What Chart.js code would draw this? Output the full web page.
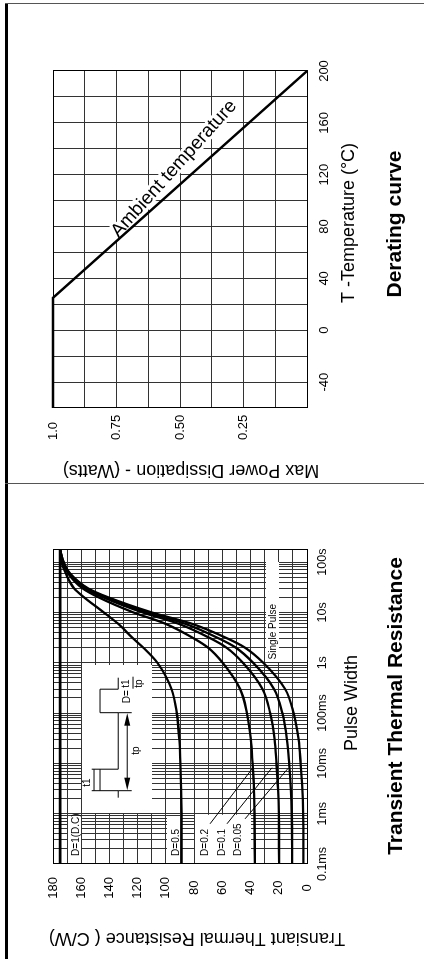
<!DOCTYPE html>
<html>
<head>
<meta charset="utf-8">
<script src="https://cdn.jsdelivr.net/npm/chart.js@4.4.1/dist/chart.umd.min.js"></script>
<style>
html,body{margin:0;padding:0;background:#fff;width:424px;height:959px;overflow:hidden;}
#stage{position:absolute;left:0;top:0;width:959px;height:424px;transform-origin:0 0;transform:translate(0px,959px) rotate(-90deg);background:#fff;}
canvas{position:absolute;top:0;}
.ln{position:absolute;background:#000;}
</style>
</head>
<body>
<div id="stage">
  <canvas id="zth" width="475" height="424" style="left:0px"></canvas>
  <canvas id="derate" width="479" height="424" style="left:476px"></canvas>
  <div class="ln" style="left:0;top:5px;width:956px;height:3px;"></div>
  <div class="ln" style="left:475px;top:5px;width:1px;height:419px;background:#555"></div>
  <div class="ln" style="left:955px;top:5px;width:1px;height:419px;background:#555"></div>
</div>
<script>
// ---------------- DATA ----------------
// Transient thermal resistance (C/W) vs pulse width (s)
const pulseWidth = [1e-4, 1e-3, 3e-3, 1e-2, 3e-2, 0.1, 0.3, 1, 2, 3, 6, 10, 20, 30, 60, 100, 174];
const zthDC     = [175, 175, 175, 175, 175, 175, 175, 175, 175, 175, 175, 175, 175, 175, 175, 175, 175];
const zthD05    = [88.8, 88.9, 89.2, 89.8, 90.5, 92.3, 96, 106, 116, 123, 134, 144, 158, 165, 171, 174, 175];
const zthD02    = [37, 37.2, 37.6, 38.6, 39.8, 42.6, 47.4, 59.8, 70.2, 79.8, 100.6, 123, 147.8, 159, 169.4, 173, 175];
const zthD01    = [19.8, 20, 20.5, 21.6, 22.9, 26.1, 31.5, 45.4, 57.1, 67.9, 91.3, 116.5, 144.4, 157, 168.7, 172.8, 175];
const zthD005   = [10.5, 10.8, 11.4, 12.6, 14.2, 17.5, 23.3, 38.2, 50.5, 62, 86.7, 113.3, 142.7, 156, 168.4, 172.6, 175];
const zthSingle = [2.5, 2.8, 3.3, 4.5, 6, 9.5, 15.5, 31, 44, 56, 82, 110, 141, 155, 168, 172.5, 175];
const dutyLabels = ['D=1(D.C)', 'D=0.5', 'D=0.2', 'D=0.1', 'D=0.05', 'Single Pulse'];

const pulseTickValues = [1e-4, 1e-3, 1e-2, 1e-1, 1, 10, 100];
const pulseTickLabels = ['0.1ms', '1ms', '10ms', '100ms', '1s', '10s', '100s'];
const zthTickValues = [0, 20, 40, 60, 80, 100, 120, 140, 160, 180];
const zthTickLabels = ['0', '20', '40', '60', '80', '100', '120', '140', '160', '180'];

// Derating curve
const temperature = [-60, 25, 200];
const maxPower    = [1.0, 1.0, 0.0];
const tempTickValues = [-40, 0, 40, 80, 120, 160, 200];
const tempTickLabels = ['-40', '0', '40', '80', '120', '160', '200'];
const powerTickValues = [0.25, 0.5, 0.75, 1.0];
const powerTickLabels = ['0.25', '0.50', '0.75', '1.0'];

// ---------------- SETUP ----------------
const FONT = '"Liberation Sans", Arial, Helvetica, sans-serif';
Chart.defaults.font.family = FONT;
Chart.defaults.color = '#000';
const GRID = '#333';

function pts(xs, ys){ return xs.map((x,i)=>({x:x, y:ys[i]})); }
function lookup(vals, labels, v){
  for (let i=0;i<vals.length;i++){ if (Math.abs(vals[i]-v) < 1e-9*Math.max(1,Math.abs(v))) return labels[i]; }
  return '';
}
function lookupLog(vals, labels, v){
  for (let i=0;i<vals.length;i++){ if (Math.abs(Math.log10(vals[i])-Math.log10(v)) < 1e-6) return labels[i]; }
  return '';
}
function text(ctx, s, x, y, font, align, base){
  ctx.font = font; ctx.textAlign = align || 'center'; ctx.textBaseline = base || 'middle';
  ctx.fillText(s, x, y);
}

const lineDs = (data, w) => ({data:data, borderColor:'#000', borderWidth:w, pointRadius:0, fill:false, cubicInterpolationMode:'monotone'});

// ---------------- LEFT: Transient thermal resistance ----------------
const zthDeco = {
  id:'zthDeco',
  beforeDatasetsDraw(chart){
    const {ctx, chartArea:a, scales:{x, y}} = chart;
    ctx.save();
    ctx.fillStyle = '#fff';
    const box = (t1,t2,v1,v2,snapRight) => {
      const x1 = Math.round(x.getPixelForValue(t1)) + 1;
      const x2 = snapRight ? Math.round(x.getPixelForValue(t2)) : x.getPixelForValue(t2);
      const yT = Math.round(y.getPixelForValue(v2)) + 1;
      const yB = Math.round(y.getPixelForValue(v1));
      ctx.fillRect(x1, yT, x2-x1, yB-yT);
    };
    box(1e-4, 8.5e-4, 160, 170, false);
    box(1e-4, 8.5e-4, 90, 100, false);
    box(1e-4, 9.5e-4, 40, 80, false);
    box(1e-3, 0.9, 110, 160, true);
    box(1, 100, 20, 30, true);

    // labels
    ctx.fillStyle = '#000';
    const f10 = '10px ' + FONT;
    const lx = x.getPixelForValue(1.45e-4);
    text(ctx, dutyLabels[0], lx, y.getPixelForValue(163.3), f10, 'left');
    text(ctx, dutyLabels[1], lx, y.getPixelForValue(92.6), f10, 'left');
    text(ctx, dutyLabels[2], lx, y.getPixelForValue(72.3), f10, 'left');
    text(ctx, dutyLabels[3], lx, y.getPixelForValue(60.4), f10, 'left');
    text(ctx, dutyLabels[4], lx, y.getPixelForValue(48.9), f10, 'left');
    text(ctx, dutyLabels[5], x.getPixelForValue(1.16), y.getPixelForValue(23.6), f10, 'left');

    // inset pulse diagram
    const bx = x.getPixelForValue(1e-3), by = y.getPixelForValue(160);
    ctx.strokeStyle = '#000'; ctx.lineWidth = 1;
    const L = (p) => { ctx.beginPath(); p.forEach((q,i)=> i ? ctx.lineTo(bx+q[0], by+q[1]) : ctx.moveTo(bx+q[0], by+q[1])); ctx.stroke(); };
    L([[16,37],[23,37],[23,18.8],[44.5,18.8],[44.5,37],[101,37],[101,18.8],[124.5,18.8],[124.5,37],[136,37]]);
    L([[23,18.8],[23,10.5]]); L([[44.5,18.8],[44.5,10.5]]);
    L([[23,37],[23,50.5]]); L([[101,37],[101,50.5]]);
    L([[23,12.8],[44.5,12.8]]);
    L([[30,46],[95,46]]);
    ctx.fillStyle = '#000';
    const tri = (p) => { ctx.beginPath(); ctx.moveTo(bx+p[0][0], by+p[0][1]); ctx.lineTo(bx+p[1][0], by+p[1][1]); ctx.lineTo(bx+p[2][0], by+p[2][1]); ctx.closePath(); ctx.fill(); };
    tri([[23.5,46],[36,43],[36,49]]);
    tri([[100.5,46],[88,43],[88,49]]);
    text(ctx, 't1', bx+31, by+6.5, f10);
    text(ctx, 'tp', bx+63, by+55, f10);
    text(ctx, 'D=', bx+117, by+46, f10);
    text(ctx, 't1', bx+130, by+45.5, f10);
    L([[125,51.8],[137,51.8]]);
    text(ctx, 'tp', bx+130, by+58, f10);
    ctx.restore();
  },
  afterDatasetsDraw(chart){
    const {ctx, chartArea:a, scales:{x, y}} = chart;
    ctx.save();
    ctx.strokeStyle = '#000'; ctx.lineWidth = 1;
    const seg = (t1,v1,t2,v2) => { ctx.beginPath(); ctx.moveTo(x.getPixelForValue(t1), y.getPixelForValue(v1)); ctx.lineTo(x.getPixelForValue(t2), y.getPixelForValue(v2)); ctx.stroke(); };
    seg(6.3e-4, 68.7, 8.2e-3, 38.3);
    seg(6.3e-4, 56.7, 8.2e-3, 24.8);
    seg(7.9e-4, 43.9, 7.9e-3, 13.5);
    ctx.strokeRect(Math.round(a.left)+0.5, Math.round(a.top)+0.5, Math.round(a.right)-Math.round(a.left), Math.round(a.bottom)-Math.round(a.top));
    ctx.restore();
  },
  afterDraw(chart){
    const {ctx} = chart;
    ctx.save();
    ctx.fillStyle = '#000';
    text(ctx, 'Pulse Width', 256, 352, '18px ' + FONT);
    text(ctx, 'Transient Thermal Resistance', 253, 396, 'bold 21px ' + FONT);
    ctx.translate(21, 197); ctx.rotate(-Math.PI/2);
    text(ctx, 'Transiant Thermal Resistance ( C/W)', 0, 0, '18px ' + FONT);
    ctx.restore();
  }
};

const logTicks = [];
for (let e=-4; e<=2; e++) for (let m=1; m<=9; m++) { const v = m*Math.pow(10,e); if (v <= 174.5) logTicks.push({value:v}); }

new Chart(document.getElementById('zth'), {
  type:'line',
  data:{ datasets:[
    lineDs(pts(pulseWidth, zthDC), 2.7),
    lineDs(pts(pulseWidth, zthD05), 2.3),
    lineDs(pts(pulseWidth, zthD02), 2.3),
    lineDs(pts(pulseWidth, zthD01), 2.3),
    lineDs(pts(pulseWidth, zthD005), 2.3),
    lineDs(pts(pulseWidth, zthSingle), 2.3)
  ]},
  options:{
    responsive:false, devicePixelRatio:1, animation:false, events:[],
    layout:{padding:{left:0, top:53, right:66, bottom:0}},
    plugins:{legend:{display:false}, tooltip:{enabled:false}},
    scales:{
      x:{ type:'logarithmic', min:1e-4, max:174,
          afterBuildTicks:(s)=>{ s.ticks = logTicks.map(t=>({value:t.value})); },
          afterFit:(s)=>{ s.height = 117; },
          grid:{color:GRID, lineWidth:1, drawTicks:false},
          border:{display:true, color:'#000', width:1},
          ticks:{autoSkip:false, maxRotation:0, minRotation:0, padding:8, font:{size:12.5},
                 callback:(v)=>lookupLog(pulseTickValues, pulseTickLabels, v)} },
      y:{ type:'linear', min:0, max:180,
          afterFit:(s)=>{ s.width = 95; },
          grid:{color:GRID, lineWidth:1, drawTicks:false},
          border:{display:true, color:'#000', width:1},
          ticks:{stepSize:10, autoSkip:false, padding:13, crossAlign:'center', font:{size:13},
                 callback:(v)=>lookup(zthTickValues, zthTickLabels, v)} }
    }
  },
  plugins:[zthDeco]
});

// ---------------- RIGHT: Derating curve ----------------
const derDeco = {
  id:'derDeco',
  beforeDatasetsDraw(chart){
    const {ctx, scales:{x, y}} = chart;
    ctx.save();
    ctx.translate(x.getPixelForValue(71), y.getPixelForValue(0.742));
    ctx.rotate(42*Math.PI/180);
    ctx.font = '19px ' + FONT; ctx.textAlign='left'; ctx.textBaseline='alphabetic';
    ctx.lineJoin = 'round';
    ctx.strokeStyle = '#fff'; ctx.lineWidth = 6;
    ctx.strokeText('Ambient temperature', 0, 0);
    ctx.fillStyle = '#000';
    ctx.fillText('Ambient temperature', 0, 0);
    ctx.restore();
  },
  afterDatasetsDraw(chart){
    const {ctx, chartArea:a} = chart;
    ctx.save();
    ctx.strokeStyle = '#000'; ctx.lineWidth = 1;
    ctx.strokeRect(Math.round(a.left)+0.5, Math.round(a.top)+0.5, Math.round(a.right)-Math.round(a.left), Math.round(a.bottom)-Math.round(a.top));
    ctx.restore();
  },
  afterDraw(chart){
    const {ctx} = chart;
    ctx.save();
    ctx.fillStyle = '#000';
    text(ctx, 'T -Temperature (\u00B0C)', 260, 349, '18px ' + FONT);
    text(ctx, 'Derating curve', 259, 395, 'bold 21px ' + FONT);
    ctx.translate(13, 191); ctx.rotate(-Math.PI/2);
    text(ctx, 'Max Power Dissipation - (Watts)', 0, 0, '18px ' + FONT);
    ctx.restore();
  }
};

new Chart(document.getElementById('derate'), {
  type:'line',
  data:{ datasets:[ Object.assign(lineDs(pts(temperature, maxPower), 2.6), {cubicInterpolationMode:'default', tension:0, clip:4}) ]},
  options:{
    responsive:false, devicePixelRatio:1, animation:false, events:[],
    layout:{padding:{left:43, top:53, right:67, bottom:0}},
    plugins:{legend:{display:false}, tooltip:{enabled:false}},
    scales:{
      x:{ type:'linear', min:-60, max:200,
          afterFit:(s)=>{ s.height = 117; },
          grid:{color:GRID, lineWidth:1, drawTicks:false},
          border:{display:true, color:'#000', width:1},
          ticks:{stepSize:20, autoSkip:false, maxRotation:0, minRotation:0, padding:10, font:{size:13},
                 callback:(v)=>lookup(tempTickValues, tempTickLabels, v)} },
      y:{ type:'linear', min:0, max:1,
          afterFit:(s)=>{ s.width = 32; },
          grid:{color:GRID, lineWidth:1, drawTicks:false},
          border:{display:true, color:'#000', width:1},
          ticks:{stepSize:0.125, autoSkip:false, padding:5, crossAlign:'far', font:{size:13},
                 callback:(v)=>lookup(powerTickValues, powerTickLabels, v)} }
    }
  },
  plugins:[derDeco]
});
</script>
</body>
</html>
